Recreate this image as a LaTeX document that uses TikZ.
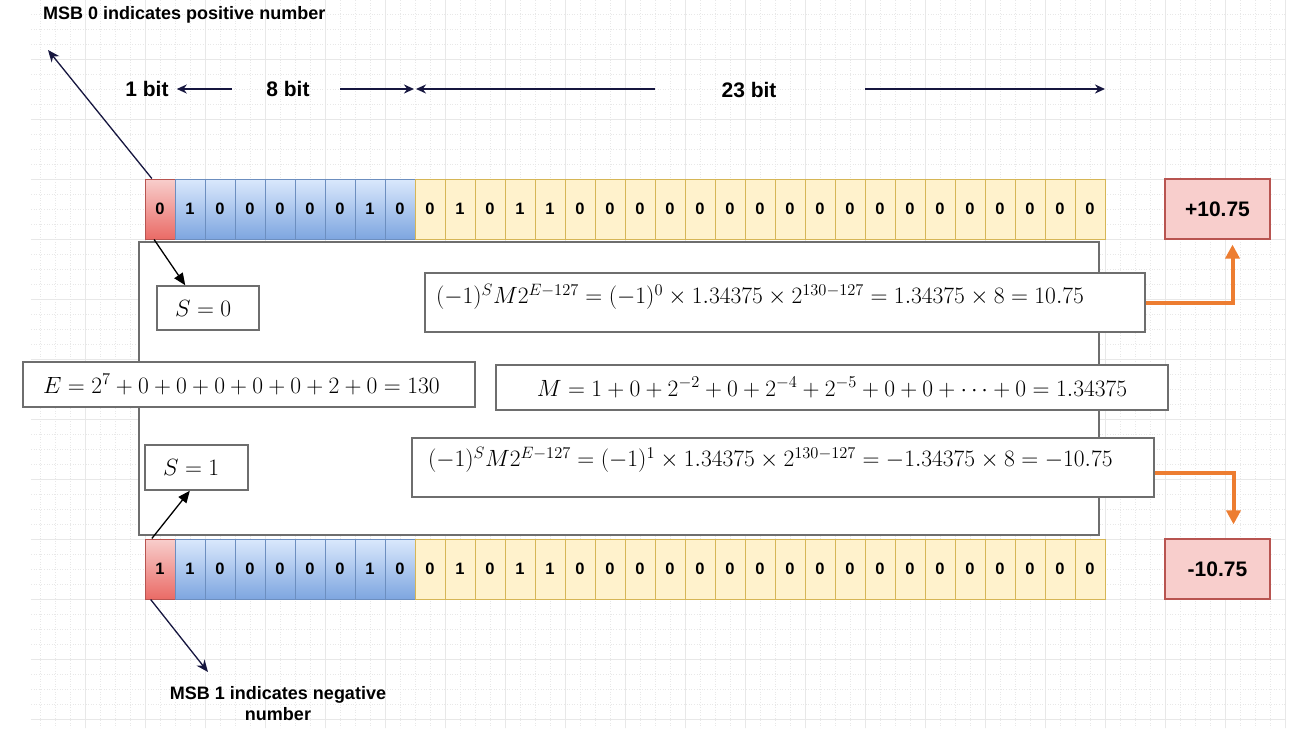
\RequirePackage{fix-cm}
\documentclass[tikz,border=0pt]{standalone}
\usepackage{fontspec}
\newfontfamily\labelfont{Liberation Sans}
\usetikzlibrary{arrows.meta}

\definecolor{signtop}{HTML}{F8CECC}
\definecolor{signbot}{HTML}{EA6B66}
\definecolor{signline}{HTML}{B85450}
\definecolor{exptop}{HTML}{DAE8FC}
\definecolor{expbot}{HTML}{7EA6E0}
\definecolor{expline}{HTML}{6C8EBF}
\definecolor{manfill}{HTML}{FFF2CC}
\definecolor{manline}{HTML}{D6B656}
\definecolor{resfill}{HTML}{F8CECC}
\definecolor{boxline}{HTML}{6E6E6E}
\definecolor{navy}{HTML}{16163F}
\definecolor{resorange}{HTML}{ED7D31}
\definecolor{gridline}{HTML}{E8E8E8}

\begin{document}
\begin{tikzpicture}[x=1pt, y=-1pt,
    cellbase/.style={draw, line width=1pt, minimum width=30pt, minimum height=60pt,
        inner sep=0pt, font=\labelfont\bfseries\fontsize{16.5}{19}\selectfont},
    signcell/.style={cellbase, draw=signline, top color=signtop, bottom color=signbot},
    expcell/.style={cellbase, draw=expline, top color=exptop, bottom color=expbot},
    mancell/.style={cellbase, draw=manline, fill=manfill},
    resbox/.style={draw=signline, fill=resfill, line width=1.2pt, minimum width=105pt,
        minimum height=60pt, font=\labelfont\bfseries\fontsize{21}{24}\selectfont},
    mathbox/.style={draw=boxline, fill=white, line width=1.5pt, align=left,
        font=\fontsize{23.5}{27}\selectfont},
    bitlabel/.style={inner sep=4pt, font=\labelfont\bfseries\fontsize{21}{24}\selectfont},
    msblabel/.style={inner sep=0pt, font=\labelfont\bfseries\fontsize{18}{21}\selectfont},
    widtharrow/.style={draw=navy, line width=2pt, -{Stealth[length=10pt, width=9pt]}},
    msbarrow/.style={draw=navy, line width=1.3pt, -{Stealth[length=12pt, width=10pt]}},
    sarrow/.style={draw=black, line width=1.3pt, -{Triangle[length=12pt, width=10pt]}},
    resarrow/.style={draw=resorange, line width=4pt, -{Triangle[length=14pt, width=14pt]}}
]

    % Page and background grid
    \useasboundingbox (0,0) rectangle (1291,744);
    \fill[white] (0,0) rectangle (1291,744);
    \foreach \gx in {40,55,...,1285}
        \draw[gridline, line width=0.6pt, dotted] (\gx,0) -- (\gx,728);
    \foreach \gy in {14,29,...,728}
        \draw[gridline, line width=0.6pt, dotted] (31,\gy) -- (1285,\gy);
    \foreach \gx in {85,145,...,1285}
        \draw[gridline, line width=1pt] (\gx,0) -- (\gx,728);
    \foreach \gy in {59,119,...,728}
        \draw[gridline, line width=1pt] (31,\gy) -- (1285,\gy);

    % Panel behind the working
    \node[draw=boxline, fill=white, line width=1.5pt, minimum width=960pt,
        minimum height=293pt] (panel) at (619,388.5) {};

    % Top row: +10.75
    \node[signcell] (t0) at (160,209) {0};
    \foreach \b [count=\i] in {1,0,0,0,0,0,1,0}
        \node[expcell] (te\i) at ({160+30*\i},209) {\b};
    \foreach \b [count=\i] in {0,1,0,1,1,0,0,0,0,0,0,0,0,0,0,0,0,0,0,0,0,0,0}
        \node[mancell] (tm\i) at ({400+30*\i},209) {\b};

    % Bottom row: -10.75
    \node[signcell] (b0) at (160,569) {1};
    \foreach \b [count=\i] in {1,0,0,0,0,0,1,0}
        \node[expcell] (be\i) at ({160+30*\i},569) {\b};
    \foreach \b [count=\i] in {0,1,0,1,1,0,0,0,0,0,0,0,0,0,0,0,0,0,0,0,0,0,0}
        \node[mancell] (bm\i) at ({400+30*\i},569) {\b};

    % Results
    \node[resbox] (rpos) at (1217.5,209) {+10.75};
    \node[resbox] (rneg) at (1217.5,569) {-10.75};

    % Bit widths
    \node[bitlabel] (bit1) at (147,89) {1 bit};
    \node[bitlabel] (bit8) at (288,89) {8 bit};
    \node[bitlabel] (bit23) at (749,90) {23 bit};
    \coordinate (w1) at (232,89);
    \coordinate (w2) at (340,89);
    \coordinate (w3) at (414,89);
    \coordinate (w4) at (655,89);
    \coordinate (w5) at (416,89);
    \coordinate (w6) at (865,89);
    \coordinate (w7) at (1105,89);
    \draw[widtharrow, shorten >=4pt] (w1) -- (bit1.east);
    \draw[widtharrow] (w2) -- (w3);
    \draw[widtharrow] (w4) -- (w5);
    \draw[widtharrow] (w6) -- (w7);

    % MSB notes
    \node[msblabel, anchor=west] (msbpos) at (43,15) {MSB 0 indicates positive number};
    \node[msblabel, align=center] (msbneg) at (278,704) {MSB 1 indicates negative\\number};
    \coordinate (msbtip) at (48,50);
    \coordinate (msbtipb) at (208,672);
    \draw[msbarrow] (t0.105) -- (msbtip);
    \draw[msbarrow] (b0.253) -- (msbtipb);

    % Working boxes
    \node[mathbox, minimum height=44pt, text width=66pt, inner xsep=18pt] (szero) at (208,308) {$S=0$};
    \node[mathbox, minimum height=45pt, text width=67pt, inner xsep=18pt] (sone) at (196.5,467.5) {$S=1$};
    \node[mathbox, minimum height=45pt, text width=412pt, inner xsep=20pt] (ebox) at (249,384.5)
        {\mbox{$E=2^7+0+0+0+0+0+2+0=130$}};
    \node[mathbox, minimum height=45pt, text width=652pt, inner xsep=10pt, align=center] (mbox) at (832,387.5)
        {\mbox{$M=1+0+2^{-2}+0+2^{-4}+2^{-5}+0+0+\cdots+0=1.34375$}};
    \node[mathbox, minimum height=59pt, text width=698pt, inner xsep=11pt, text depth=17pt] (ftop) at (785,302.5)
        {\mbox{$(-1)^S M2^{E-127}=(-1)^0\times 1.34375\times 2^{130-127}=1.34375\times 8=10.75$}};
    \node[mathbox, minimum height=59pt, text width=710pt, inner xsep=16pt, text depth=21pt] (fbot) at (783,467.5)
        {\mbox{$(-1)^S M2^{E-127}=(-1)^1\times 1.34375\times 2^{130-127}=-1.34375\times 8=-10.75$}};

    % Sign bit to S
    \draw[sarrow] (t0.259) -- (szero.135);
    \draw[sarrow] (b0.105) -- (sone.254);

    % Formula to result
    \draw[resarrow, shorten >=5pt] (ftop.east) -| ([xshift=15pt]rpos.south);
    \draw[resarrow, shorten >=14pt] ([yshift=-5.5pt]fbot.east) -| ([xshift=16pt]rneg.north);

\end{tikzpicture}
\end{document}
